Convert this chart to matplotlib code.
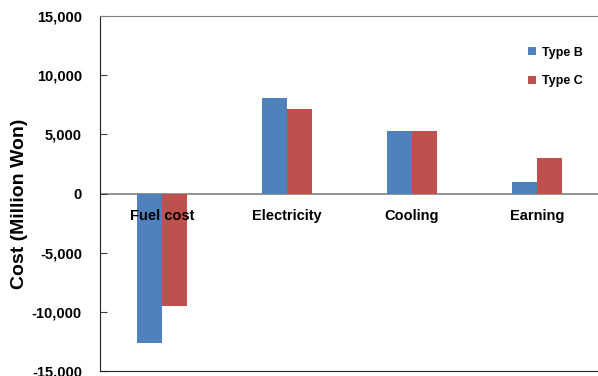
import numpy as np
import matplotlib.pyplot as plt

# Data
categories = ["Fuel cost", "Electricity", "Cooling", "Earning"]
type_b = [-12600, 8100, 5300, 1000]
type_c = [-9500, 7100, 5300, 3000]
y_ticks = [-15000, -10000, -5000, 0, 5000, 10000, 15000]

plt.rcParams["font.family"] = ["Liberation Sans", "DejaVu Sans"]
plt.rcParams["font.weight"] = "bold"

fig = plt.figure(figsize=(5.98, 3.76), dpi=100)
ax = fig.add_axes([100 / 598, 5 / 376, 1 - 100 / 598 + 0.002, 355 / 376])

x = np.arange(len(categories))
w = 0.2
ax.bar(x - w / 2, type_b, w, color="#4F81BD", label="Type B", zorder=2)
ax.bar(x + w / 2, type_c, w, color="#C0504D", label="Type C", zorder=2)

ax.set_xlim(-0.5, 3.5)
ax.set_ylim(-15000, 15000)
ax.set_yticks(y_ticks)
ax.set_yticklabels([f"{v:,}" for v in y_ticks], fontsize=10.5, fontweight="bold")
ax.tick_params(axis="y", direction="in", length=5, pad=13, color="#404040")

# category axis sits at zero
ax.axhline(0, color="#808080", lw=1.2, zorder=1)
ax.set_xticks([])
for i, c in enumerate(categories):
    ax.text(i, -1350, c, ha="center", va="top", fontsize=10.5,
            fontweight="bold", zorder=3)

ax.spines["right"].set_visible(False)
ax.spines["top"].set_color("#808080")
ax.spines["left"].set_color("#202020")
ax.spines["bottom"].set_color("#202020")

ax.set_ylabel("Cost (Million Won)", fontsize=14, fontweight="bold")
ax.yaxis.set_label_coords(-72 / 498, 0.47)

ax.legend(loc="upper right", bbox_to_anchor=(0.99, 0.945), frameon=False,
          prop={"size": 9, "weight": "bold"}, handlelength=0.6,
          handleheight=0.6, handletextpad=0.5, labelspacing=1.3)

fig.savefig("out.png", dpi=100)
